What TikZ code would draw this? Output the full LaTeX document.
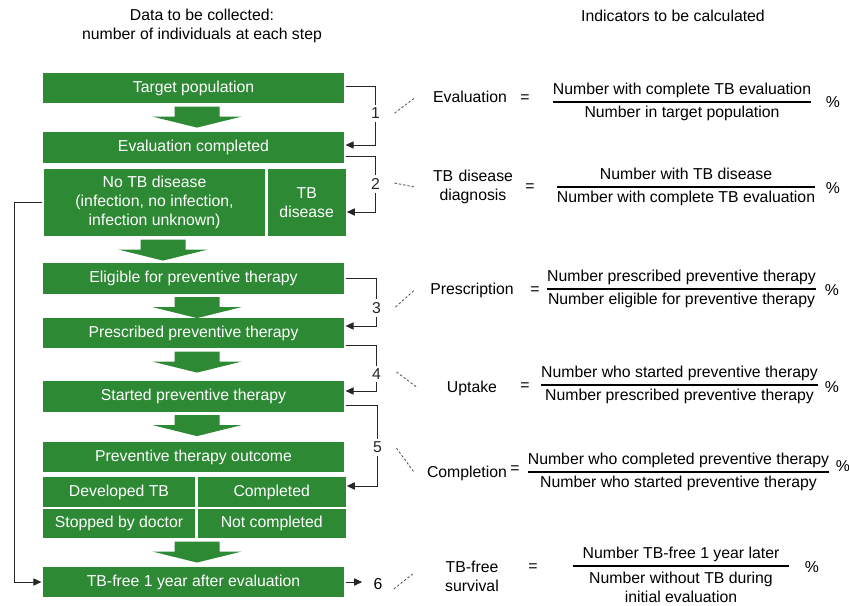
\documentclass[tikz,border=0pt]{standalone}
\usepackage{fontspec}
\setmainfont{Liberation Sans}
\usepackage{amsmath}
\usepackage{tikz}
\usetikzlibrary{positioning,arrows.meta,calc}
\definecolor{tbgreen}{RGB}{46,137,53}

% fat green arrow below a box: #1 = x centre, #2 = upper node
\newcommand{\flowarrow}[2]{%
  \fill[tbgreen] (#1,0 |- #2.south) ++(-22.5,2) -- ++(45,0) -- ++(0,10) -- ++(22,0)
    -- ++(-44.5,11) -- ++(-44.5,-11) -- ++(22,0) -- cycle;}
% indicator ratio
\newcommand{\ratio}[2]{$\genfrac{}{}{0.6pt}{0}{\text{#1}}{\text{#2}}$}

\begin{document}
\begin{tikzpicture}[
  x=0.5pt, y=-0.5pt,
  font=\fontsize{7.9}{9.5}\selectfont,
  >={Triangle[length=4pt,width=3.6pt]},
  stepbox/.style={fill=tbgreen, draw=white, line width=0.6pt, text=white, minimum width=151.5pt, minimum height=16pt, inner sep=1pt, align=center},
  cell/.style={stepbox, minimum width=77pt, minimum height=15.25pt},
  link/.style={->, line width=0.5pt, black!85},
  num/.style={fill=white, inner sep=1.5pt},
  pointer/.style={black!70, line width=0.4pt, dash pattern=on 1.2pt off 1pt},
  indname/.style={text width=46pt, align=center, inner sep=1pt},
  frac/.style={anchor=base, inner sep=0pt},
]
\useasboundingbox (0,0) rectangle (849,605);

% Column headings
\node[align=center] (datahead) at (202,26) {Data to be collected:\\number of individuals at each step};
\node (indhead) at (673,16) {Indicators to be calculated};

% Cascade steps
\node[stepbox] (target) at (193.5,88) {Target population};
\node[stepbox] (evalc) at (193.5,147.5) {Evaluation completed};
\node[stepbox, minimum width=111.5pt, minimum height=34.5pt] (notb) at (154.5,202.5) {No TB disease\\(infection, no infection,\\infection unknown)};
\node[stepbox, minimum width=39.5pt, minimum height=34.5pt, right=0pt of notb] (tbd) {TB\\disease};
\node[stepbox] (elig) at (193.5,278.5) {Eligible for preventive therapy};
\node[stepbox] (presc) at (193.5,333) {Prescribed preventive therapy};
\node[stepbox] (started) at (193.5,396.5) {Started preventive therapy};
\node[stepbox] (outcome) at (193.5,457) {Preventive therapy outcome};
\node[cell] (devtb) at (119,492) {Developed TB};
\node[cell, minimum width=74.5pt, right=0pt of devtb] (compl) {Completed};
\node[cell, below=0pt of devtb] (stopped) {Stopped by doctor};
\node[cell, minimum width=74.5pt, below=0pt of compl] (notcompl) {Not completed};
\node[stepbox] (tbfree) at (193.5,582) {TB-free 1 year after evaluation};

% Fat arrows between steps
\flowarrow{197}{target}
\flowarrow{163}{notb}
\flowarrow{197}{elig}
\flowarrow{197}{presc}
\flowarrow{197}{started}
\flowarrow{197}{stopped}

% Brackets with step numbers
\draw[link] ([yshift=1pt]target.east) -- ++(30,0) |- node[num, pos=0.23] (n1) {1} ([yshift=1.25pt]evalc.east);
\draw[link] ([yshift=-4.25pt]evalc.east) -- ++(30,0) |- node[num, pos=0.25] (n2) {2} ([yshift=-4.75pt]tbd.east);
\draw[link] (elig.east) -- ++(31,0) |- node[num, pos=0.31] (n3) {3} ([yshift=3.5pt]presc.east);
\draw[link] ([yshift=-6pt]presc.east) -- ++(31,0) |- node[num, pos=0.315] (n4) {4} ([yshift=2.75pt]started.east);
\draw[link] ([yshift=-4.25pt]started.east) -- ++(32,0) |- node[num, pos=0.26] (n5) {5} ([yshift=3pt]compl.east);
\node[num] (n6) at (378,584) {6};
\draw[link, shorten >=4pt] (tbfree.east) -- (n6.west |- tbfree.east);

% No TB disease goes straight to the last step
\draw[link] (notb.west) -- ++(-28,0) |- (tbfree.west);

% Indicators
\node[indname] (evalname) at (470,97) {Evaluation};
\node (evaleq) at (525,99) {=};
\node[frac] (evalfrac) at (682,106) {\ratio{Number with complete TB evaluation}{Number in target population}};
\node (evalpct) at (833,102) {\%};

\node[indname] (diagname) at (473,187) {TB disease\\diagnosis};
\node (diageq) at (530,188) {=};
\node[frac] (diagfrac) at (686,191) {\ratio{Number with TB disease}{Number with complete TB evaluation}};
\node (diagpct) at (833,188) {\%};

\node[indname] (prescname) at (472,290) {Prescription};
\node (presceq) at (535,291) {=};
\node[frac] (prescfrac) at (681.5,293) {\ratio{Number prescribed preventive therapy}{Number eligible for preventive therapy}};
\node (prescpct) at (832,290) {\%};

\node[indname] (uptname) at (472,388) {Uptake};
\node (upteq) at (525,387) {=};
\node[frac] (uptfrac) at (679.5,389) {\ratio{Number who started preventive therapy}{Number prescribed preventive therapy}};
\node (uptpct) at (832,387) {\%};

\node[indname] (complname) at (467,473) {Completion};
\node (compleq) at (515,470) {=};
\node[frac] (complfrac) at (678.5,476) {\ratio{Number who completed preventive therapy}{Number who started preventive therapy}};
\node (complpct) at (843,466) {\%};

\node[indname] (survname) at (472,576) {TB-free\\survival};
\node (surveq) at (533,568) {=};
\node[frac] (survfrac) at (681,570) {\ratio{\hspace{5pt}Number TB-free 1 year later\hspace{5pt}}{\begin{tabular}[t]{@{}c@{}}Number without TB during\\initial evaluation\end{tabular}}};
\node (survpct) at (812,567) {\%};

% Dotted pointers from step numbers to indicators
\draw[pointer] ($(n1.east)+(11,0)$) -- ($(evalname.west)+(-7,1)$);
\draw[pointer] ($(n2.east)+(11,-1)$) -- ($(diagname.west)+(-10,0)$);
\draw[pointer] ($(n3.east)+(11,-1)$) -- ($(prescname.west)+(-9,0)$);
\draw[pointer] ($(n4.east)+(12,-2)$) -- ($(uptname.west)+(-7,-1)$);
\draw[pointer] ($(n5.east)+(11,1)$) -- ($(complname.west)+(-4,0)$);
\draw[pointer] ($(n6.east)+(8,5)$) -- ($(survname.west)+(-11,-2)$);

\end{tikzpicture}
\end{document}
